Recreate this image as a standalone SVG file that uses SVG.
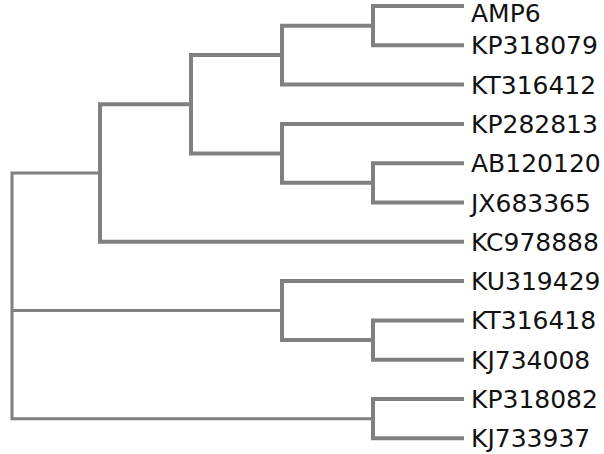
<svg xmlns="http://www.w3.org/2000/svg" width="604" height="454" viewBox="0 0 604 454">
<style>
.br{fill:none;stroke:#808080;stroke-width:4;stroke-linejoin:miter;stroke-linecap:square}
.rt{fill:none;stroke:#808080;stroke-width:3;stroke-linecap:square}
.lb{font-family:"DejaVu Sans",Verdana,sans-serif;font-size:25px;fill:#111}
</style>
<rect width="604" height="454" fill="#fff"/>
<g id="connectors">
<path class="br" d="M462 6 H373 V45.3 H462"/>
<path class="br" d="M373 25.65 H282 V84.6 H462"/>
<path class="br" d="M462 163.2 H373 V202.5 H462"/>
<path class="br" d="M462 123.9 H282 V182.85 H373"/>
<path class="br" d="M282 55.1 H191 V153.4 H282"/>
<path class="br" d="M191 104.3 H100 V241.8 H462"/>
<path class="br" d="M462 320.4 H373 V359.7 H462"/>
<path class="br" d="M462 281.1 H282 V340.05 H373"/>
<path class="br" d="M462 399 H373 V438.3 H462"/>
<path class="rt" d="M100 173 H12 V418.7 H373 M12 310.6 H282"/>
</g>
<g id="AMP6"><text class="lb" x="471" y="22">AMP6</text></g>
<g id="KP318079"><text class="lb" x="471" y="54.3">KP318079</text></g>
<g id="KT316412"><text class="lb" x="471" y="93.6">KT316412</text></g>
<g id="KP282813"><text class="lb" x="471" y="132.9">KP282813</text></g>
<g id="AB120120"><text class="lb" x="471" y="172.2">AB120120</text></g>
<g id="JX683365"><text class="lb" x="471" y="211.5">JX683365</text></g>
<g id="KC978888"><text class="lb" x="471" y="250.8">KC978888</text></g>
<g id="KU319429"><text class="lb" x="471" y="290.1">KU319429</text></g>
<g id="KT316418"><text class="lb" x="471" y="329.4">KT316418</text></g>
<g id="KJ734008"><text class="lb" x="471" y="368.7">KJ734008</text></g>
<g id="KP318082"><text class="lb" x="471" y="408">KP318082</text></g>
<g id="KJ733937"><text class="lb" x="471" y="447.3">KJ733937</text></g>
</svg>
